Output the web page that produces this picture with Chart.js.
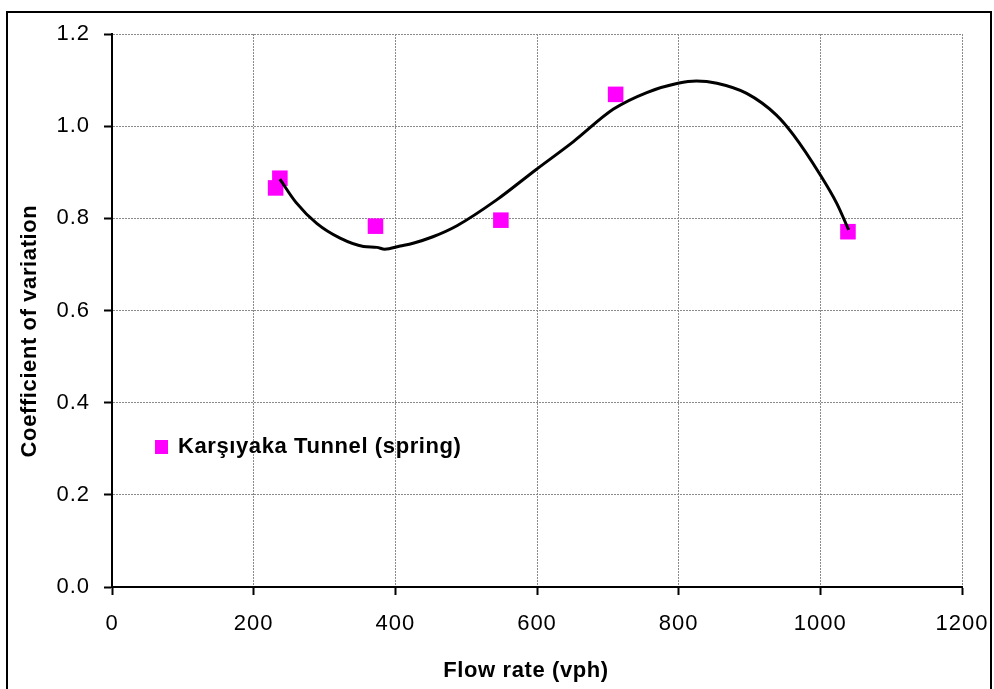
<!DOCTYPE html>
<html>
<head>
<meta charset="utf-8">
<script src="https://cdn.jsdelivr.net/npm/chart.js@4/dist/chart.umd.min.js"></script>
<style>
  html, body { margin: 0; padding: 0; background: #fff; }
  #wrap { width: 994px; height: 689px; position: relative; }
</style>
</head>
<body>
<div id="wrap"><canvas id="c" width="994" height="689"></canvas></div>
<script>
// Measured coefficient of variation against flow rate
const flowRate = [231, 237, 372, 549, 711, 1039];
const coefVar  = [0.866, 0.887, 0.783, 0.796, 1.069, 0.771];

// Fitted trend curve
const trendFlow = [237, 260, 289, 322, 355, 374, 385, 407, 425, 453, 487, 543, 598, 651, 708, 755, 799, 825, 854, 896, 938, 962, 1000, 1023, 1040];
const trendCoef = [0.885, 0.834, 0.789, 0.757, 0.739, 0.737, 0.733, 0.740, 0.746, 0.760, 0.784, 0.840, 0.905, 0.966, 1.037, 1.073, 1.093, 1.098, 1.093, 1.071, 1.024, 0.981, 0.894, 0.833, 0.775];

const xTicks = [0, 200, 400, 600, 800, 1000, 1200];
const yTicks = [0.0, 0.2, 0.4, 0.6, 0.8, 1.0, 1.2];

const seriesLabel = 'Karşıyaka Tunnel (spring)';
const xTitle = 'Flow rate (vph)';
const yTitle = 'Coefficient of variation';

const FONT = '"Liberation Sans", Arial, Helvetica, sans-serif';
const MAGENTA = '#ff00ff';

const points = flowRate.map((x, i) => ({ x, y: coefVar[i] }));
const trend = trendFlow.map((x, i) => ({ x, y: trendCoef[i] }));

// Slightly wider character spacing for all chart text
const spacing = {
  id: 'spacing',
  beforeDraw(chart) { chart.ctx.letterSpacing = '1px'; }
};

// Outer frame, axis titles and the in-plot legend
const decorations = {
  id: 'decorations',
  afterDraw(chart) {
    const ctx = chart.ctx;
    ctx.save();
    ctx.letterSpacing = '0.6px';
    ctx.strokeStyle = '#000';
    ctx.lineWidth = 2;
    ctx.strokeRect(7, 12, 984, 700);

    ctx.fillStyle = '#000';
    ctx.font = 'bold 22px ' + FONT;
    ctx.textAlign = 'center';
    ctx.textBaseline = 'middle';
    ctx.fillText(xTitle, 526, 671);

    ctx.save();
    ctx.translate(29.5, 331);
    ctx.rotate(-Math.PI / 2);
    ctx.fillText(yTitle, 0, 0);
    ctx.restore();

    // legend entry
    ctx.fillStyle = MAGENTA;
    ctx.fillRect(155, 440, 13, 14);
    ctx.fillStyle = '#000';
    ctx.textAlign = 'left';
    ctx.fillText(chart.data.datasets[1].label, 178, 447);
    ctx.restore();
    ctx.letterSpacing = '0px';
  }
};

new Chart(document.getElementById('c'), {
  type: 'scatter',
  data: {
    datasets: [
      {
        label: 'trend',
        data: trend,
        showLine: true,
        borderColor: '#000',
        borderWidth: 3,
        pointRadius: 0,
        fill: false,
        cubicInterpolationMode: 'monotone'
      },
      {
        label: seriesLabel,
        data: points,
        pointStyle: 'rect',
        pointRadius: 11,
        pointBorderWidth: 0,
        pointBackgroundColor: MAGENTA,
        backgroundColor: MAGENTA,
        borderColor: MAGENTA
      }
    ]
  },
  options: {
    responsive: false,
    animation: false,
    events: [],
    layout: { padding: { left: 0, top: 34, right: 32, bottom: 0 } },
    plugins: {
      legend: { display: false },
      tooltip: { enabled: false }
    },
    scales: {
      x: {
        type: 'linear',
        min: 0,
        max: 1200,
        afterFit(scale) {
          scale.height = 102;
          scale.paddingLeft = 0;
          scale.paddingRight = 0;
        },
        afterBuildTicks(scale) { scale.ticks = xTicks.map(v => ({ value: v })); },
        ticks: {
          color: '#000',
          padding: 16,
          maxRotation: 0,
          font: { family: FONT, size: 22 },
          callback: v => String(v)
        },
        grid: {
          color: '#8a8a8a',
          lineWidth: 1,
          tickColor: '#000',
          tickLength: 8,
          tickWidth: 2
        },
        border: { display: true, color: '#000', width: 2, dash: [2, 1] }
      },
      y: {
        type: 'linear',
        min: 0,
        max: 1.2,
        afterFit(scale) {
          scale.width = 112;
          scale.paddingTop = 0;
          scale.paddingBottom = 0;
        },
        afterBuildTicks(scale) { scale.ticks = yTicks.map(v => ({ value: v })); },
        ticks: {
          color: '#000',
          padding: 14,
          font: { family: FONT, size: 22 },
          callback: v => Number(v).toFixed(1)
        },
        grid: {
          color: '#8a8a8a',
          lineWidth: 1,
          tickColor: '#000',
          tickLength: 8,
          tickWidth: 2
        },
        border: { display: true, color: '#000', width: 2, dash: [2, 1] }
      }
    }
  },
  plugins: [spacing, decorations]
});
</script>
</body>
</html>
